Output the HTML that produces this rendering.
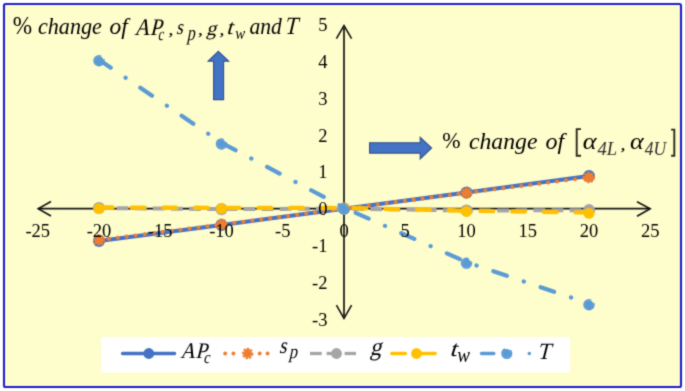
<!DOCTYPE html>
<html><head><meta charset="utf-8">
<style>
html,body{margin:0;padding:0;background:#ffffff;}
body{width:685px;height:391px;position:relative;overflow:hidden;}
svg{position:absolute;left:0;top:0;}
text{font-family:"Liberation Serif",serif;}
.t{font-family:"Liberation Serif",serif;fill:#000;}
</style></head>
<body>
<svg width="685" height="391" viewBox="0 0 685 391">
<defs><filter id="soft" x="0" y="0" width="685" height="391" filterUnits="userSpaceOnUse" color-interpolation-filters="sRGB"><feConvolveMatrix order="3" kernelMatrix="0.03 0.1 0.03 0.1 0.48 0.1 0.03 0.1 0.03" edgeMode="duplicate"/></filter></defs>
<g filter="url(#soft)">
<rect x="0" y="0" width="685" height="391" fill="#ffffff"/>
<rect x="4" y="4" width="677" height="383" rx="1.5" fill="#FEFDCC" stroke="#1F1DD0" stroke-width="2.1"/>
<g stroke="#141414" stroke-width="1.7" fill="none" stroke-linejoin="miter">
<line x1="38" y1="208.7" x2="650" y2="208.7"/>
<line x1="344" y1="26" x2="344" y2="318"/>
<polyline points="51,201.5 38.2,208.7 51,216" stroke-width="1.6"/>
<polyline points="637,201.7 650.2,208.7 637,216.2" stroke-width="1.6"/>
<polyline points="336.4,38.6 344,25.6 351.6,38.6" stroke-width="1.6"/>
<polyline points="336.4,305.2 344,318.3 351.6,305.2" stroke-width="1.6"/>
</g>
<polyline points="99.0,241.1 221.5,224.9 344.0,208.7 466.5,192.5 589.0,175.9" fill="none" stroke="#4472C4" stroke-width="4" stroke-linejoin="round"/>
<circle cx="99.0" cy="241.1" r="6.0" fill="#4472C4"/><circle cx="221.5" cy="224.9" r="6.0" fill="#4472C4"/><circle cx="344.0" cy="208.7" r="6.0" fill="#4472C4"/><circle cx="466.5" cy="192.5" r="6.0" fill="#4472C4"/><circle cx="589.0" cy="175.9" r="6.0" fill="#4472C4"/>
<polyline points="99.0,240.0 221.5,224.5 344.0,208.7 466.5,192.9 589.0,177.4" fill="none" stroke="#ED7D31" stroke-width="3.9" stroke-linecap="round" stroke-dasharray="0.1 8.94" stroke-dashoffset="-0.8"/>
<circle cx="99.0" cy="240.0" r="4.6" fill="#ED7D31"/><circle cx="221.5" cy="224.5" r="4.6" fill="#ED7D31"/><circle cx="344.0" cy="208.7" r="4.6" fill="#ED7D31"/><circle cx="466.5" cy="192.9" r="4.6" fill="#ED7D31"/><circle cx="589.0" cy="177.4" r="4.6" fill="#ED7D31"/>
<circle cx="99.0" cy="240.0" r="5.2" fill="none" stroke="#ED7D31" stroke-width="1.5" stroke-dasharray="2.4 1.3"/><circle cx="221.5" cy="224.5" r="5.2" fill="none" stroke="#ED7D31" stroke-width="1.5" stroke-dasharray="2.4 1.3"/><circle cx="344.0" cy="208.7" r="5.2" fill="none" stroke="#ED7D31" stroke-width="1.5" stroke-dasharray="2.4 1.3"/><circle cx="466.5" cy="192.9" r="5.2" fill="none" stroke="#ED7D31" stroke-width="1.5" stroke-dasharray="2.4 1.3"/><circle cx="589.0" cy="177.4" r="5.2" fill="none" stroke="#ED7D31" stroke-width="1.5" stroke-dasharray="2.4 1.3"/>
<polyline points="99.0,208.0 221.5,209.1 344.0,208.7 466.5,210.5 589.0,210.2" fill="none" stroke="#A5A5A5" stroke-width="4" stroke-dasharray="11.8 6.32" stroke-dashoffset="0.44"/>
<circle cx="99.0" cy="208.0" r="6.1" fill="#A5A5A5"/><circle cx="221.5" cy="209.1" r="6.1" fill="#A5A5A5"/><circle cx="344.0" cy="208.7" r="6.1" fill="#A5A5A5"/><circle cx="466.5" cy="210.5" r="6.1" fill="#A5A5A5"/><circle cx="589.0" cy="210.2" r="6.1" fill="#A5A5A5"/>
<polyline transform="translate(0,-0.8)" points="99.0,208.3 221.5,208.7 344.0,208.7 466.5,211.5 589.0,213.4" fill="none" stroke="#FFC000" stroke-width="4.4" stroke-linecap="round" stroke-dasharray="12.6 19.11" stroke-dashoffset="-1.0"/>
<circle cx="99.0" cy="208.7" r="5.4" fill="#FFC000"/><circle cx="221.5" cy="208.7" r="5.4" fill="#FFC000"/><circle cx="344.0" cy="208.7" r="5.4" fill="#FFC000"/><circle cx="466.5" cy="211.5" r="5.4" fill="#FFC000"/><circle cx="589.0" cy="213.4" r="5.4" fill="#FFC000"/>
<polyline transform="translate(0,-1.1)" points="99.0,60.8 221.5,143.9 344.0,208.7 466.5,263.2 589.0,304.7" fill="none" stroke="#5B9BD5" stroke-width="4.2" stroke-linecap="round" stroke-dasharray="14.2 17.85 0.1 17.75"/>
<circle cx="99.0" cy="60.8" r="4.5" fill="#5B9BD5"/><circle cx="221.5" cy="143.9" r="4.5" fill="#5B9BD5"/><circle cx="344.0" cy="208.7" r="4.5" fill="#5B9BD5"/><circle cx="466.5" cy="263.2" r="4.5" fill="#5B9BD5"/><circle cx="589.0" cy="304.7" r="4.5" fill="#5B9BD5"/>
<circle cx="99.0" cy="60.8" r="5.0" fill="none" stroke="#5B9BD5" stroke-width="1.5" stroke-dasharray="25.2 3.6 10"/><circle cx="221.5" cy="143.9" r="5.0" fill="none" stroke="#5B9BD5" stroke-width="1.5" stroke-dasharray="25.2 3.6 10"/><circle cx="344.0" cy="208.7" r="5.0" fill="none" stroke="#5B9BD5" stroke-width="1.5" stroke-dasharray="25.2 3.6 10"/><circle cx="466.5" cy="263.2" r="5.0" fill="none" stroke="#5B9BD5" stroke-width="1.5" stroke-dasharray="25.2 3.6 10"/><circle cx="589.0" cy="304.7" r="5.0" fill="none" stroke="#5B9BD5" stroke-width="1.5" stroke-dasharray="25.2 3.6 10"/>
<path d="M218.4,51.3 L228.7,61.3 L223.6,61.3 L223.6,99.6 L213.6,99.6 L213.6,61.3 L208.1,61.3 Z" fill="#4472C4" stroke="#2F5090" stroke-width="1.1"/>
<path d="M369.6,142.7 L420.2,142.7 L420.2,137.3 L431.6,148 L420.2,159 L420.2,153.1 L369.6,153.1 Z" fill="#4472C4" stroke="#2F5090" stroke-width="1.1"/>
<rect x="101.3" y="337.1" width="468.8" height="35.4" fill="#ffffff"/>
<line x1="122.6" y1="353.5" x2="174.6" y2="353.5" stroke="#4472C4" stroke-width="3.4" stroke-linecap="round"/>
<circle cx="148.8" cy="353.5" r="5.4" fill="#4472C4"/>
<circle cx="225.2" cy="353.5" r="1.95" fill="#ED7D31"/>
<circle cx="233.4" cy="353.5" r="1.95" fill="#ED7D31"/>
<circle cx="259.7" cy="353.5" r="1.95" fill="#ED7D31"/>
<circle cx="267.6" cy="353.5" r="1.95" fill="#ED7D31"/>
<circle cx="247.6" cy="353.5" r="4.4" fill="#ED7D31"/>
<circle cx="247.6" cy="353.5" r="5.0" fill="none" stroke="#ED7D31" stroke-width="1.5" stroke-dasharray="2.4 1.3"/>
<line x1="310" y1="353.5" x2="321.8" y2="353.5" stroke="#A5A5A5" stroke-width="3.3"/>
<line x1="326.6" y1="353.5" x2="332" y2="353.5" stroke="#A5A5A5" stroke-width="3.3"/>
<line x1="344.6" y1="353.5" x2="356" y2="353.5" stroke="#A5A5A5" stroke-width="3.3"/>
<circle cx="336.5" cy="353.5" r="5.4" fill="#A5A5A5"/>
<line x1="391.8" y1="353.5" x2="405.4" y2="353.5" stroke="#FFC000" stroke-width="3.4" stroke-linecap="round"/>
<line x1="420" y1="353.5" x2="435.2" y2="353.5" stroke="#FFC000" stroke-width="3.4" stroke-linecap="round"/>
<circle cx="416.5" cy="353.5" r="5.4" fill="#FFC000"/>
<line x1="481.5" y1="353.5" x2="493.8" y2="353.5" stroke="#5B9BD5" stroke-width="3.4" stroke-linecap="round"/>
<circle cx="506.8" cy="353.5" r="4.4" fill="#5B9BD5"/>
<circle cx="506.8" cy="353.5" r="4.85" fill="none" stroke="#5B9BD5" stroke-width="1.5" stroke-dasharray="20.6 5.2 10"/>
<circle cx="529.3" cy="353.5" r="1.8" fill="#5B9BD5"/>
<g class="t" font-size="18.5"><text x="37.8" y="236.5" text-anchor="middle">-25</text>
<text x="99.0" y="236.5" text-anchor="middle">-20</text>
<text x="160.2" y="236.5" text-anchor="middle">-15</text>
<text x="221.5" y="236.5" text-anchor="middle">-10</text>
<text x="282.8" y="236.5" text-anchor="middle">-5</text>
<text x="344.0" y="236.5" text-anchor="middle">0</text>
<text x="405.2" y="236.5" text-anchor="middle">5</text>
<text x="466.5" y="236.5" text-anchor="middle">10</text>
<text x="527.8" y="236.5" text-anchor="middle">15</text>
<text x="589.0" y="236.5" text-anchor="middle">20</text>
<text x="650.2" y="236.5" text-anchor="middle">25</text>
<text x="327.5" y="325.6" text-anchor="end">-3</text>
<text x="327.5" y="288.8" text-anchor="end">-2</text>
<text x="327.5" y="252.0" text-anchor="end">-1</text>
<text x="327.5" y="215.2" text-anchor="end">0</text>
<text x="327.5" y="178.4" text-anchor="end">1</text>
<text x="327.5" y="141.6" text-anchor="end">2</text>
<text x="327.5" y="104.8" text-anchor="end">3</text>
<text x="327.5" y="68.0" text-anchor="end">4</text>
<text x="327.5" y="31.2" text-anchor="end">5</text></g>
<text transform="translate(12.79,34.34) scale(0.9589,1)" font-size="24.26" font-style="normal" fill="#000000">%</text>
<text transform="translate(37.94,33.91) scale(0.9738,1)" font-size="22.75" font-style="italic" fill="#000000">change</text>
<text transform="translate(109.60,34.03) scale(1.0584,1)" font-size="22.17" font-style="italic" fill="#000000">of</text>
<text transform="translate(134.36,34.50) scale(0.8990,1) skewX(-15.00)" font-size="23.79" font-style="normal" fill="#000000">AP</text>
<text transform="translate(157.77,40.42) scale(0.6961,1) skewX(-15.00)" font-size="17.71" font-style="normal" fill="#000000">c</text>
<text transform="translate(168.15,35.23) scale(1.2952,1)" font-size="16.47" font-style="italic" fill="#000000">,</text>
<text transform="translate(175.91,34.29) scale(0.8269,1) skewX(-15.00)" font-size="21.04" font-style="normal" fill="#000000">s</text>
<text transform="translate(186.76,40.12) scale(0.7492,1) skewX(-15.00)" font-size="21.31" font-style="normal" fill="#000000">p</text>
<text transform="translate(197.65,35.23) scale(1.2952,1)" font-size="16.47" font-style="italic" fill="#000000">,</text>
<text transform="translate(205.89,34.74) scale(0.9991,1) skewX(-15.00)" font-size="20.28" font-style="normal" fill="#000000">g</text>
<text transform="translate(219.35,35.23) scale(1.2952,1)" font-size="16.47" font-style="italic" fill="#000000">,</text>
<text transform="translate(226.06,34.29) scale(1.1111,1) skewX(-15.00)" font-size="21.04" font-style="normal" fill="#000000">t</text>
<text transform="translate(235.33,39.44) scale(0.9375,1)" font-size="15.96" font-style="italic" fill="#000000">w</text>
<text transform="translate(249.45,34.27) scale(0.9299,1)" font-size="23.26" font-style="italic" fill="#000000">and</text>
<text transform="translate(284.07,34.10) scale(0.8675,1) skewX(-15.00)" font-size="24.73" font-style="normal" fill="#000000">T</text>
<text transform="translate(442.33,148.16) scale(0.9697,1)" font-size="22.65" font-style="normal" fill="#000000">%</text>
<text transform="translate(468.99,148.75) scale(0.9895,1)" font-size="23.96" font-style="italic" fill="#000000">change</text>
<text transform="translate(545.38,148.88) scale(1.0290,1)" font-size="23.37" font-style="italic" fill="#000000">of</text>
<text transform="translate(582.81,148.57) scale(1.1261,1)" font-size="23.33" font-style="italic" fill="#000000">α</text>
<text transform="translate(597.51,154.50) scale(1.0066,1)" font-size="18.48" font-style="italic" fill="#2e2e2e">4L</text>
<text transform="translate(620.13,149.75) scale(1.2467,1)" font-size="17.65" font-style="italic" fill="#000000">,</text>
<text transform="translate(630.12,148.86) scale(1.0885,1)" font-size="23.96" font-style="italic" fill="#000000">α</text>
<text transform="translate(644.71,154.70) scale(0.8873,1)" font-size="19.70" font-style="italic" fill="#2e2e2e">4U</text>
<text transform="translate(179.96,357.50) scale(0.9437,1) skewX(-15.00)" font-size="22.27" font-style="normal" fill="#000000">AP</text>
<text transform="translate(203.23,363.03) scale(0.8252,1) skewX(-15.00)" font-size="16.87" font-style="normal" fill="#000000">c</text>
<text transform="translate(279.03,352.87) scale(0.8440,1) skewX(-15.00)" font-size="22.71" font-style="normal" fill="#000000">s</text>
<text transform="translate(288.78,358.29) scale(0.8427,1) skewX(-15.00)" font-size="19.56" font-style="normal" fill="#000000">p</text>
<text transform="translate(369.67,355.00) scale(0.9164,1) skewX(-15.00)" font-size="25.10" font-style="normal" fill="#000000">g</text>
<text transform="translate(449.35,356.48) scale(1.1584,1) skewX(-15.00)" font-size="22.26" font-style="normal" fill="#000000">t</text>
<text transform="translate(457.32,362.30) scale(0.9528,1)" font-size="20.00" font-style="italic" fill="#000000">w</text>
<text transform="translate(536.92,359.00) scale(0.9325,1) skewX(-15.00)" font-size="23.36" font-style="normal" fill="#000000">T</text>
<path d="M581,129.1 L576.7,129.1 L576.7,155.8 L581,155.8" fill="none" stroke="#2a2a1a" stroke-width="1.9"/>
<path d="M671.1,129.6 L674.3,129.6 L674.3,155.8 L671.1,155.8" fill="none" stroke="#2a2a1a" stroke-width="1.9"/>
</g></svg>
</body></html>
